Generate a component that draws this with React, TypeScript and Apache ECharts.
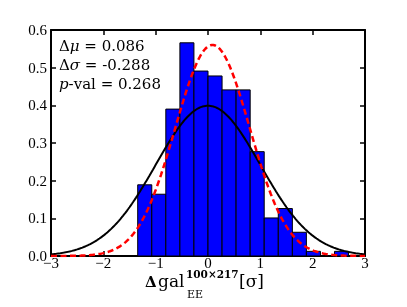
import React, { useEffect, useRef } from "react";
import * as echarts from "echarts";

// Histogram bin edges (x, in sigma) and normalised heights
const BIN_EDGES = [-1.343, -1.074, -0.806, -0.537, -0.269, 0.0, 0.269, 0.537, 0.806, 1.074, 1.343, 1.612, 1.88, 2.149, 2.417, 2.686];
const BIN_HEIGHTS = [0.189, 0.164, 0.39, 0.566, 0.491, 0.478, 0.441, 0.441, 0.277, 0.101, 0.126, 0.063, 0.0124, 0, 0.0124];

// Fit parameters shown in the annotation
const DELTA_MU = 0.086;
const DELTA_SIGMA = -0.288;
const P_VAL = 0.268;

// Axis ticks
const X_TICKS = [-3, -2, -1, 0, 1, 2, 3];
const Y_TICKS = [0, 0.1, 0.2, 0.3, 0.4, 0.5, 0.6];

const gaussian = (x: number, mu: number, s: number) =>
  Math.exp(-0.5 * ((x - mu) / s) ** 2) / (s * Math.sqrt(2 * Math.PI));

export default function App() {
  const ref = useRef<HTMLDivElement>(null);
  useEffect(() => {
    if (!ref.current) return;
    const chart = echarts.init(ref.current, null, { renderer: "svg" });

    const xs: number[] = [];
    for (let i = 0; i <= 240; i++) xs.push(X_TICKS[0] + (i * (X_TICKS[X_TICKS.length - 1] - X_TICKS[0])) / 240);
    const stdCurve = xs.map((x) => [x, gaussian(x, 0, 1)]);
    const fitCurve = xs.map((x) => [x, gaussian(x, DELTA_MU, 1 + DELTA_SIGMA)]);
    const bars = BIN_HEIGHTS.map((h, i) => [BIN_EDGES[i], BIN_EDGES[i + 1], h]);

    const tickFont = { fontFamily: "Liberation Serif", fontSize: 15, color: "#000" };
    const axisCommon = {
      type: "value" as const,
      axisLine: { show: true, onZero: false, lineStyle: { color: "#000", width: 2 } },
      axisTick: { show: true, inside: true, length: 5, lineStyle: { color: "#000", width: 1.5 } },
      splitLine: { show: false },
    };
    const xCommon = { ...axisCommon, min: X_TICKS[0], max: X_TICKS[X_TICKS.length - 1], interval: 1 };
    const yCommon = { ...axisCommon, min: Y_TICKS[0], max: Y_TICKS[Y_TICKS.length - 1], interval: 0.1 };

    const annFont = { fontFamily: "DejaVu Serif", fontSize: 15, fill: "#000" };
    const annRich = {
      n: { fontFamily: "DejaVu Serif", fontSize: 15, fill: "#000", lineHeight: 16 },
      i: { fontFamily: "DejaVu Serif", fontStyle: "italic", fontSize: 15, fill: "#000", lineHeight: 16 },
    };

    chart.setOption({
      animation: false,
      grid: { left: 51, right: 42, top: 30, bottom: 51, containLabel: false, outerBoundsMode: "none" },
      xAxis: [
        {
          ...xCommon,
          position: "bottom",
          axisLabel: {
            ...tickFont,
            margin: 2,
            lineHeight: 10,
            formatter: (v: number) => (v < 0 ? "\u2212" + Math.abs(v) : String(v)),
          },
        },
        { ...xCommon, position: "top", axisLabel: { show: false } },
      ],
      yAxis: [
        {
          ...yCommon,
          position: "left",
          axisLabel: { ...tickFont, margin: 4, lineHeight: 10, formatter: (v: number) => v.toFixed(1) },
        },
        { ...yCommon, position: "right", axisLabel: { show: false } },
      ],
      series: [
        {
          type: "custom",
          z: 2,
          xAxisIndex: 0,
          yAxisIndex: 0,
          data: bars,
          encode: { x: [0, 1], y: 2 },
          renderItem: (_p: any, api: any) => {
            const x0 = api.value(0);
            const x1 = api.value(1);
            const h = api.value(2);
            if (!(h > 0)) return null;
            const a = api.coord([x0, h]);
            const b = api.coord([x1, 0]);
            return {
              type: "rect",
              shape: { x: a[0], y: a[1], width: b[0] - a[0], height: b[1] - a[1] },
              style: { fill: "#0000ff", stroke: "#000", lineWidth: 1 },
            };
          },
        },
        {
          type: "line",
          z: 3,
          data: stdCurve,
          showSymbol: false,
          lineStyle: { color: "#000", width: 2 },
        },
        {
          type: "line",
          z: 4,
          data: fitCurve,
          showSymbol: false,
          lineStyle: { color: "#ff0000", width: 2.5, type: [6, 3.5] },
        },
      ],
      graphic: [
        {
          type: "text",
          x: 59,
          y: 45.5,
          z: 10,
          style: { ...annFont, text: "{n|\u0394}{i|\u03bc}{n| = " + DELTA_MU.toFixed(3) + "}", rich: annRich, verticalAlign: "middle" },
        },
        {
          type: "text",
          x: 59,
          y: 65,
          z: 10,
          style: { ...annFont, text: "{n|\u0394}{i|\u03c3}{n| = " + DELTA_SIGMA.toFixed(3) + "}", rich: annRich, verticalAlign: "middle" },
        },
        {
          type: "text",
          x: 59,
          y: 84,
          z: 10,
          style: { ...annFont, text: "{i|p}{n|-val = " + P_VAL.toFixed(3) + "}", rich: annRich, verticalAlign: "middle" },
        },
        // x axis title: Δgal_EE^{100×217}[σ]
        {
          type: "text",
          x: 145,
          y: 281.5,
          style: { text: "\u0394", fontFamily: "DejaVu Serif", fontWeight: "bold", fontSize: 15, lineHeight: 11, fill: "#000", verticalAlign: "middle" },
        },
        {
          type: "text",
          x: 158,
          y: 281,
          style: { text: "gal", fontFamily: "DejaVu Serif", fontSize: 17, lineHeight: 13, fill: "#000", verticalAlign: "middle" },
        },
        {
          type: "text",
          x: 186,
          y: 274,
          style: { text: "100\u00d7217", fontFamily: "DejaVu Serif", fontWeight: "bold", fontSize: 10.5, lineHeight: 7, fill: "#000", verticalAlign: "middle" },
        },
        {
          type: "text",
          x: 187,
          y: 294.5,
          style: { text: "EE", fontFamily: "DejaVu Serif", fontSize: 11, lineHeight: 9, fill: "#000", verticalAlign: "middle" },
        },
        {
          type: "text",
          x: 239,
          y: 281,
          style: { text: "[\u03c3]", fontFamily: "DejaVu Serif", fontSize: 17, lineHeight: 14, fill: "#000", verticalAlign: "middle" },
        },
      ],
    });
    return () => chart.dispose();
  }, []);
  return <div ref={ref} style={{ position: "fixed", left: 0, top: 0, width: 407, height: 307 }} />;
}
